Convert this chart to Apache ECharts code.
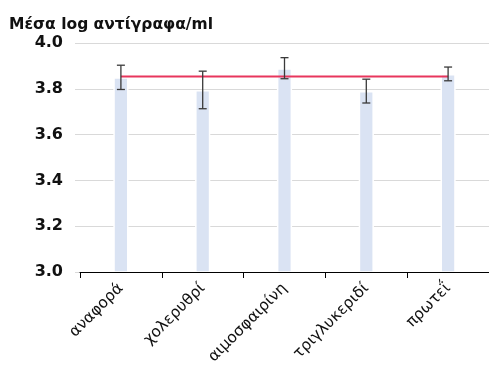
<!DOCTYPE html>
<html>
<head>
<meta charset="utf-8">
<script src="https://cdn.jsdelivr.net/npm/echarts@6/dist/echarts.min.js"></script>
<style>
  html, body { margin: 0; padding: 0; background: #fff; }
  #chart { width: 489px; height: 369px; }
</style>
</head>
<body>
<div id="chart"></div>
<script>
// Mean log copies/ml per sample group, with error bars and reference level
const categories = ['αναφορά', 'χολερυθρί', 'αιμοσφαιρίνη', 'τριγλυκεριδί', 'πρωτεΐ'];
const means = [3.85, 3.795, 3.89, 3.79, 3.865];
const errors = [0.053, 0.082, 0.046, 0.052, 0.03];
const referenceLevel = [3.854, 3.854, 3.854, 3.854, 3.854];
const yTicks = [3.0, 3.2, 3.4, 3.6, 3.8, 4.0];

const chart = echarts.init(document.getElementById('chart'));

const errorData = means.map((m, i) => [i, m - errors[i], m + errors[i]]);

const yRange = { min: yTicks[0], max: yTicks[yTicks.length - 1], interval: 0.2 };

chart.setOption({
  animation: false,
  title: {
    text: 'Μέσα log αντίγραφα/ml',
    left: 4,
    top: 12,
    textStyle: { fontFamily: 'DejaVu Sans', fontWeight: 'bold', fontSize: 15.5, color: '#111' }
  },
  grid: [
    { left: 80, top: 43, width: 412, bottom: 97, containLabel: false },
    // wider backdrop grid that carries only the horizontal gridlines
    { left: 75, top: 43, width: 417, bottom: 97, containLabel: false }
  ],
  xAxis: [
    {
      type: 'category',
      gridIndex: 0,
      data: categories,
      axisLine: { lineStyle: { color: '#000', width: 1 } },
      axisTick: { show: true, length: 6, lineStyle: { color: '#000' } },
      axisLabel: {
        rotate: 45,
        margin: 14,
        fontFamily: 'DejaVu Sans',
        fontSize: 15.5,
        color: '#111'
      },
      z: 5
    },
    { type: 'value', gridIndex: 1, show: false }
  ],
  yAxis: [
    Object.assign({
      type: 'value',
      gridIndex: 0,
      axisLine: { show: false },
      axisTick: { show: false },
      splitLine: { show: false },
      axisLabel: {
        margin: 17,
        fontFamily: 'DejaVu Sans',
        fontWeight: 'bold',
        fontSize: 16,
        color: '#111',
        formatter: v => v.toFixed(1)
      }
    }, yRange),
    Object.assign({
      type: 'value',
      gridIndex: 1,
      axisLine: { show: false },
      axisTick: { show: false },
      axisLabel: { show: false },
      splitLine: { lineStyle: { color: '#d9d9d9', width: 1 } },
      z: 0
    }, yRange)
  ],
  series: [
    {
      type: 'bar',
      data: means,
      barWidth: 15.2,
      itemStyle: { color: '#dae3f3', borderColor: '#ffffff', borderWidth: 1.5 },
      z: 2
    },
    {
      type: 'line',
      data: referenceLevel,
      symbol: 'none',
      lineStyle: { color: '#e8365d', width: 2 },
      z: 3
    },
    {
      type: 'custom',
      data: errorData,
      z: 4,
      renderItem: function (params, api) {
        const x = api.value(0);
        const lo = api.coord([x, api.value(1)]);
        const hi = api.coord([x, api.value(2)]);
        const cap = 4;
        const style = { stroke: '#3a3a3a', lineWidth: 1.3 };
        return {
          type: 'group',
          children: [
            { type: 'line', shape: { x1: hi[0], y1: hi[1], x2: lo[0], y2: lo[1] }, style },
            { type: 'line', shape: { x1: hi[0] - cap, y1: hi[1], x2: hi[0] + cap, y2: hi[1] }, style },
            { type: 'line', shape: { x1: lo[0] - cap, y1: lo[1], x2: lo[0] + cap, y2: lo[1] }, style }
          ]
        };
      }
    }
  ]
});
</script>
</body>
</html>
